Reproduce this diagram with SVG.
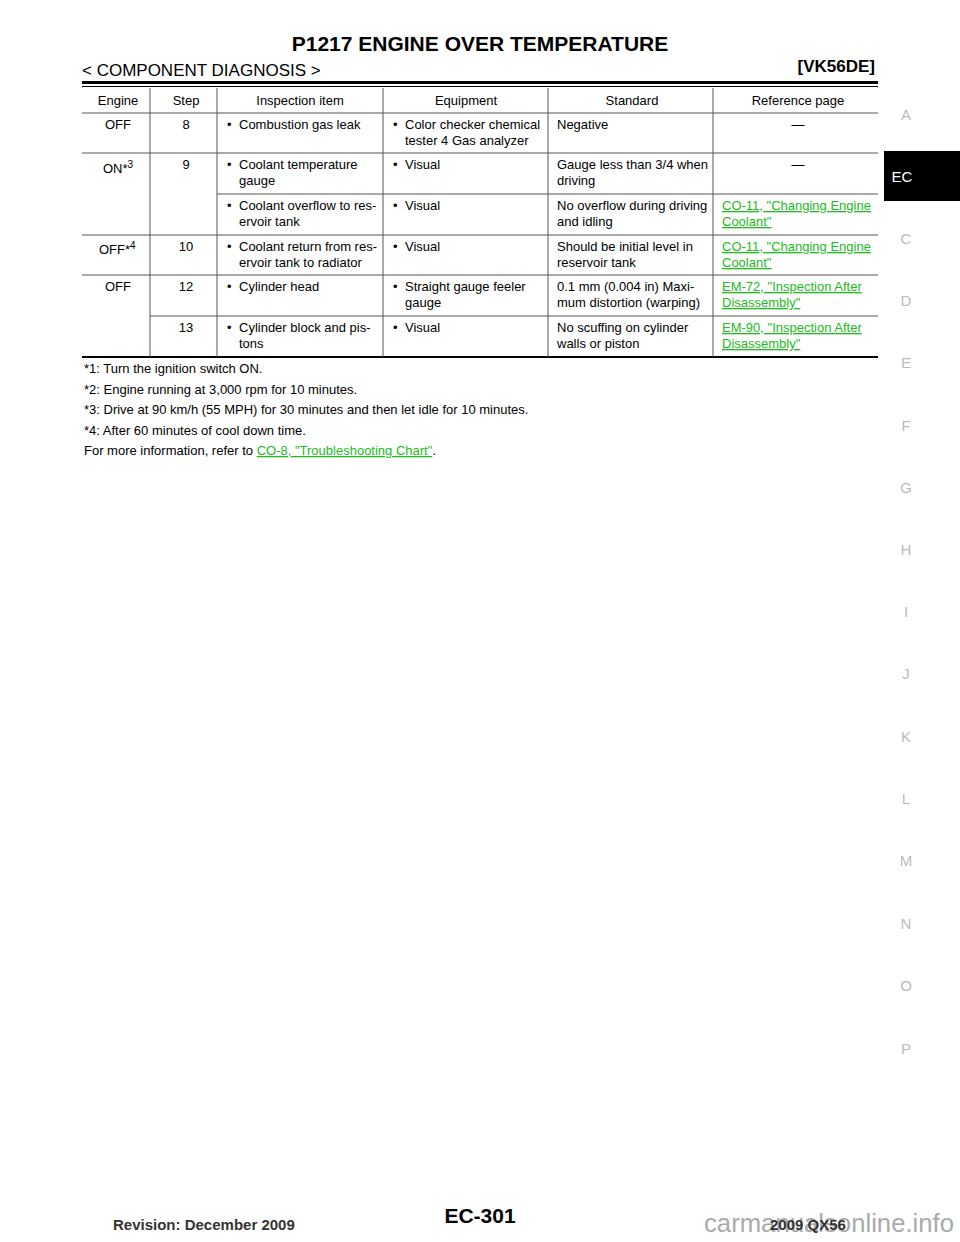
<svg xmlns="http://www.w3.org/2000/svg" width="960" height="1242" viewBox="0 0 960 1242">
<style>
text{font-family:"Liberation Sans",Arial,sans-serif;fill:#000}
.t{font-size:13px}
.c{text-anchor:middle}
.l{fill:#22bb22;text-decoration:underline}
.g{fill:#bbb;font-size:15px;text-anchor:middle}
line{stroke:#555;stroke-width:1}
</style>
<rect width="960" height="1242" fill="#fff"/>
<text x="480" y="51" class="c" font-size="21" font-weight="bold">P1217 ENGINE OVER TEMPERATURE</text>
<text x="82" y="76" font-size="17">&lt; COMPONENT DIAGNOSIS &gt;</text>
<text x="875" y="72" font-size="17" font-weight="bold" text-anchor="end">[VK56DE]</text>
<rect x="82" y="81" width="796" height="3" fill="#000"/>
<rect x="82" y="86" width="796" height="1" fill="#000"/>
<g id="table">
<line x1="82" y1="113" x2="878" y2="113"/>
<line x1="82" y1="153" x2="878" y2="153"/>
<line x1="217" y1="194" x2="878" y2="194"/>
<line x1="82" y1="235" x2="878" y2="235"/>
<line x1="82" y1="275" x2="878" y2="275"/>
<line x1="150" y1="316" x2="878" y2="316"/>
<rect x="82" y="356" width="796" height="2" fill="#000"/>
<line x1="150" y1="88" x2="150" y2="357"/>
<line x1="217" y1="88" x2="217" y2="357"/>
<line x1="383" y1="88" x2="383" y2="357"/>
<line x1="548" y1="88" x2="548" y2="357"/>
<line x1="713" y1="88" x2="713" y2="357"/>
<g class="t">
<text x="118" y="105" class="c">Engine</text><text x="186" y="105" class="c">Step</text>
<text x="300" y="105" class="c">Inspection item</text><text x="466" y="105" class="c">Equipment</text>
<text x="632" y="105" class="c">Standard</text><text x="798" y="105" class="c">Reference page</text>
<text x="118" y="129" class="c">OFF</text><text x="186" y="129" class="c">8</text>
<text x="227" y="129">•<tspan x="239">Combustion gas leak</tspan></text>
<text x="393" y="129">•<tspan x="405">Color checker chemical</tspan></text><text x="405" y="145">tester 4 Gas analyzer</text>
<text x="557" y="129">Negative</text><text x="798" y="129" class="c">—</text>
<text x="103" y="173">ON*<tspan font-size="10" dy="-5">3</tspan></text><text x="186" y="169" class="c">9</text>
<text x="227" y="169">•<tspan x="239">Coolant temperature</tspan></text><text x="239" y="185">gauge</text>
<text x="393" y="169">•<tspan x="405">Visual</tspan></text>
<text x="557" y="169">Gauge less than 3/4 when</text><text x="557" y="185">driving</text>
<text x="798" y="169" class="c">—</text>
<text x="227" y="210">•<tspan x="239">Coolant overflow to res-</tspan></text><text x="239" y="226">ervoir tank</text>
<text x="393" y="210">•<tspan x="405">Visual</tspan></text>
<text x="557" y="210">No overflow during driving</text><text x="557" y="226">and idling</text>
<text x="722" y="210" class="l">CO-11, "Changing Engine </text><text x="722" y="226" class="l">Coolant"</text>
<text x="99" y="254">OFF*<tspan font-size="10" dy="-5">4</tspan></text><text x="186" y="251" class="c">10</text>
<text x="227" y="251">•<tspan x="239">Coolant return from res-</tspan></text><text x="239" y="267">ervoir tank to radiator</text>
<text x="393" y="251">•<tspan x="405">Visual</tspan></text>
<text x="557" y="251">Should be initial level in</text><text x="557" y="267">reservoir tank</text>
<text x="722" y="251" class="l">CO-11, "Changing Engine </text><text x="722" y="267" class="l">Coolant"</text>
<text x="118" y="291" class="c">OFF</text><text x="186" y="291" class="c">12</text>
<text x="227" y="291">•<tspan x="239">Cylinder head</tspan></text>
<text x="393" y="291">•<tspan x="405">Straight gauge feeler</tspan></text><text x="405" y="307">gauge</text>
<text x="557" y="291">0.1 mm (0.004 in) Maxi-</text><text x="557" y="307">mum distortion (warping)</text>
<text x="722" y="291" class="l">EM-72, "Inspection After </text><text x="722" y="307" class="l">Disassembly"</text>
<text x="186" y="332" class="c">13</text>
<text x="227" y="332">•<tspan x="239">Cylinder block and pis-</tspan></text><text x="239" y="348">tons</text>
<text x="393" y="332">•<tspan x="405">Visual</tspan></text>
<text x="557" y="332">No scuffing on cylinder</text><text x="557" y="348">walls or piston</text>
<text x="722" y="332" class="l">EM-90, "Inspection After </text><text x="722" y="348" class="l">Disassembly"</text>
</g>
</g>
<g class="t">
<text x="84" y="373">*1: Turn the ignition switch ON.</text>
<text x="84" y="394">*2: Engine running at 3,000 rpm for 10 minutes.</text>
<text x="84" y="414">*3: Drive at 90 km/h (55 MPH) for 30 minutes and then let idle for 10 minutes.</text>
<text x="84" y="435">*4: After 60 minutes of cool down time.</text>
<text x="84" y="455">For more information, refer to <tspan class="l">CO-8, "Troubleshooting Chart"</tspan>.</text>
</g>
<g id="tabs">
<rect x="884" y="151" width="76" height="50" fill="#000"/>
<text x="902" y="182" font-size="15" style="fill:#fff" text-anchor="middle">EC</text>
<text x="906" y="120" class="g">A</text>
<text x="906" y="244" class="g">C</text>
<text x="906" y="306" class="g">D</text>
<text x="906" y="368" class="g">E</text>
<text x="906" y="431" class="g">F</text>
<text x="906" y="493" class="g">G</text>
<text x="906" y="555" class="g">H</text>
<text x="906" y="617" class="g">I</text>
<text x="906" y="679" class="g">J</text>
<text x="906" y="742" class="g">K</text>
<text x="906" y="804" class="g">L</text>
<text x="906" y="866" class="g">M</text>
<text x="906" y="929" class="g">N</text>
<text x="906" y="991" class="g">O</text>
<text x="906" y="1054" class="g">P</text>
</g>
<text x="113" y="1230" font-size="15" font-weight="bold" style="fill:#333">Revision: December 2009</text>
<text x="480" y="1223" class="c" font-size="21" font-weight="bold">EC-301</text>
<text x="704" y="1232" font-size="25" textLength="250" lengthAdjust="spacingAndGlyphs" style="fill:#aaa">carmanualsonline.info</text>
<text x="770" y="1230" font-size="15" font-weight="bold" style="fill:#333">2009 QX56</text>
</svg>
